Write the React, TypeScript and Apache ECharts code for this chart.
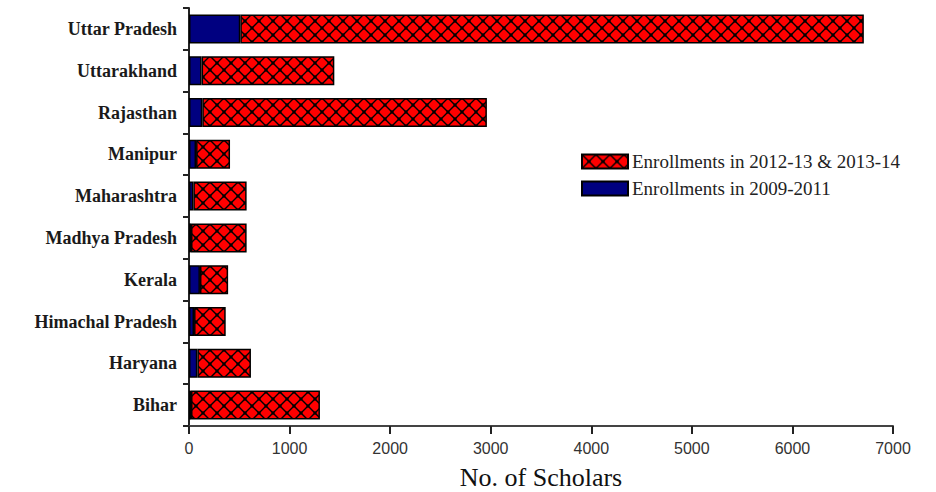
import React, { useEffect, useRef } from "react";
import * as echarts from "echarts";

const categories = [
  "Bihar",
  "Haryana",
  "Himachal Pradesh",
  "Kerala",
  "Madhya Pradesh",
  "Maharashtra",
  "Manipur",
  "Rajasthan",
  "Uttarakhand",
  "Uttar Pradesh",
];
const enrol2009 = [20, 83, 50, 109, 20, 43, 70, 132, 125, 510];
const enrol2012 = [1282, 533, 315, 280, 553, 530, 338, 2830, 1320, 6200];
const xTicks = { min: 0, max: 7000, interval: 1000 };
const seriesNames = ["Enrollments in 2012-13 & 2013-14", "Enrollments in 2009-2011"];

function makePattern(): string {
  const s = 14;
  const c = document.createElement("canvas");
  c.width = s;
  c.height = s;
  const ctx = c.getContext("2d")!;
  ctx.fillStyle = "#ff0000";
  ctx.fillRect(0, 0, s, s);
  ctx.strokeStyle = "#000";
  ctx.lineWidth = 1.4;
  ctx.beginPath();
  ctx.moveTo(-1, -1);
  ctx.lineTo(s + 1, s + 1);
  ctx.moveTo(s + 1, -1);
  ctx.lineTo(-1, s + 1);
  ctx.stroke();
  ctx.fillStyle = "#000";
  ctx.fillRect(s / 2 - 1.5, s / 2 - 1.5, 3, 3);
  ctx.fillRect(-1.5, -1.5, 3, 3);
  ctx.fillRect(s - 1.5, -1.5, 3, 3);
  ctx.fillRect(-1.5, s - 1.5, 3, 3);
  ctx.fillRect(s - 1.5, s - 1.5, 3, 3);
  return c.toDataURL();
}

export default function App() {
  const ref = useRef<HTMLDivElement>(null);
  useEffect(() => {
    if (!ref.current) return;
    const chart = echarts.init(ref.current, null, { renderer: "svg" });
    const pattern = {
      image: makePattern(),
      repeat: "repeat",
      imageWidth: 14,
      imageHeight: 14,
    };
    chart.setOption({
      animation: false,
      backgroundColor: "#ffffff",
      grid: {
        left: 189,
        right: 43,
        top: 8,
        bottom: 66,
        containLabel: false,
        outerBoundsMode: "none",
      },
      legend: {
        data: seriesNames,
        orient: "vertical",
        left: 581,
        top: 152,
        padding: 0,
        itemGap: 8,
        itemWidth: 46,
        itemHeight: 14,
        icon: "rect",
        textStyle: { fontFamily: "Liberation Serif", fontSize: 19, color: "#222", padding: [0, 0, 0, -1] },
      },
      xAxis: {
        type: "value",
        min: xTicks.min,
        max: xTicks.max,
        interval: xTicks.interval,
        name: "No. of Scholars",
        nameLocation: "middle",
        nameGap: 38,
        nameTextStyle: { fontFamily: "Liberation Serif", fontSize: 26, lineHeight: 26, color: "#111" },
        splitLine: { show: false },
        axisLine: { show: true, lineStyle: { color: "#444", width: 2 } },
        axisTick: { show: true, length: 8, lineStyle: { color: "#222", width: 2 } },
        axisLabel: {
          fontFamily: "Liberation Sans",
          fontSize: 16,
          color: "#333",
          margin: 14,
          formatter: (v: number) => String(v),
        },
      },
      yAxis: {
        type: "category",
        data: categories,
        axisLine: { show: true, lineStyle: { color: "#222", width: 2 } },
        axisTick: { show: true, length: 6, alignWithLabel: false, lineStyle: { color: "#222", width: 2 } },
        axisLabel: {
          fontFamily: "Liberation Serif",
          fontWeight: "bold",
          fontSize: 18,
          color: "#1a1a1a",
          margin: 12,
        },
      },
      series: [
        {
          name: seriesNames[1],
          type: "bar",
          stack: "total",
          data: enrol2009,
          barWidth: 29,
          itemStyle: { color: "#000080", borderColor: "#000", borderWidth: 1.5 },
        },
        {
          name: seriesNames[0],
          type: "bar",
          stack: "total",
          data: enrol2012,
          barWidth: 29,
          itemStyle: { color: pattern, borderColor: "#000", borderWidth: 1.5 },
        },
      ],
    });
    return () => chart.dispose();
  }, []);
  return (
    <div
      ref={ref}
      style={{ position: "fixed", left: 0, top: 0, width: 936, height: 492 }}
    />
  );
}
